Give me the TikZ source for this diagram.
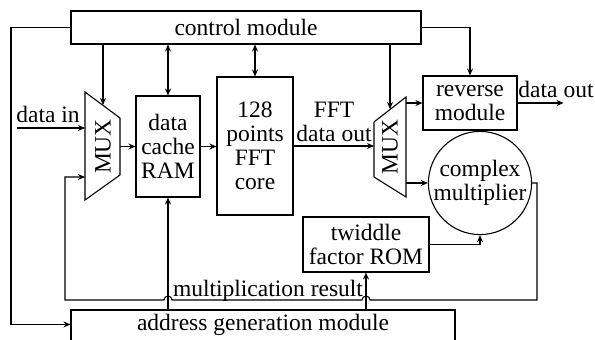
\documentclass[tikz,border=0pt]{standalone}
\usepackage{fontspec}
\setmainfont{Liberation Serif}
\usetikzlibrary{arrows.meta,calc}
\begin{document}
\begin{tikzpicture}[x=1pt,y=-1pt,
  every node/.style={font=\fontsize{23.5}{24}\selectfont},
  box/.style={draw,line width=1.1pt,inner sep=0pt,align=center},
  ln/.style={line width=1.1pt},
  arr/.style={ln,-{Stealth[length=7pt,width=6pt]}},
  darr/.style={ln,{Stealth[length=7pt,width=6pt]}-{Stealth[length=7pt,width=6pt]}},
  lbl/.style={inner sep=0pt,align=center}]
\useasboundingbox (0,0) rectangle (595,340);
% blocks
\node[box,minimum width=350pt,minimum height=33pt] (ctrl) at (246,27.5) {control module};
\node[box,minimum width=64pt,minimum height=101pt] (ram) at (168,146.5) {data\\cache\\RAM};
\node[box,minimum width=76pt,minimum height=138pt] (fft) at (255,146) {128\\points\\FFT\\core};
\node[box,minimum width=94pt,minimum height=54pt] (rev) at (470,103) {reverse\\module};
\node[box,minimum width=126pt,minimum height=55pt] (rom) at (366,244.5) {twiddle\\factor ROM};
\node[box,circle,minimum size=98pt] (cm) at (480,183) {complex\\multiplier};
\node[box,minimum width=384pt,minimum height=40pt] (addr) at (263,330) {};
\node[lbl] (addrt) at (263,325) {address generation module};
% MUX 1
\coordinate (m1a) at (85,92);
\coordinate (m1b) at (120,118);
\coordinate (m1c) at (120,175);
\coordinate (m1d) at (85,200);
\draw[ln] (m1a) -- (m1b) -- (m1c) -- (m1d) -- cycle;
\node[lbl,rotate=90] (mux1) at (103,146.5) {MUX};
% MUX 2
\coordinate (m2a) at (374,122);
\coordinate (m2b) at (406,97);
\coordinate (m2c) at (406,197);
\coordinate (m2d) at (374,177);
\draw[ln] (m2a) -- (m2b) -- (m2c) -- (m2d) -- cycle;
\node[lbl,rotate=90] (mux2) at (390,147) {MUX};
% connection points
\coordinate (m1top) at (103,105);
\coordinate (m1in) at (85,128);
\coordinate (m1fb) at (85,177);
\coordinate (m1out) at (120,146.5);
\coordinate (m2top) at (390,109);
\coordinate (m2in) at (374,146);
\coordinate (m2o1) at (406,103);
\coordinate (m2o2) at (406,183);
\coordinate (din) at (17,128);
\coordinate (addrin) at ($(addr.north west)+(0,15)$);
% connectors
\draw[arr] (ctrl.west) -- (11,27.5) |- (addrin);
\draw[arr] (ctrl.south -| m1top) -- (m1top);
\draw[arr] (din) -- (m1in);
\node[lbl,anchor=base] (dinl) at (48,122) {data in};
\draw[arr] (m1out) -- (ram.west);
\draw[darr] (ctrl.south -| ram.north) -- (ram.north);
\draw[arr] (addr.north -| ram.south) -- (ram.south);
\draw[arr] (ram.east) -- (ram.east -| fft.west);
\draw[darr] (ctrl.south -| fft.north) -- (fft.north);
\draw[arr] (fft.east) -- (m2in);
\node[lbl] (fftl) at (334,122) {FFT\\data out};
\draw[arr] (ctrl.south -| m2top) -- (m2top);
\draw[arr] (m2o1) -- (rev.west |- m2o1);
\draw[arr] (ctrl.east) -| (rev.north);
\draw[arr] (rev.east) -- ++(46,0) coordinate (dout);
\node[lbl,anchor=base] (doutl) at (556,97) {data out};
\draw[arr] (m2o2) -- (cm.west);
\draw[arr] (rom.east) -| (cm.south);
\draw[arr] (addr.north -| rom.south) -- (rom.south);
\draw[arr] (cm.east) -- (537,183) -- (537,300) -- (370,300)
  arc[start angle=0,end angle=-180,radius=4] -- (172,300)
  arc[start angle=0,end angle=-180,radius=4] -- (65,300) |- (m1fb);
\node[lbl,anchor=base] (mres) at (268,296) {multiplication result};
\end{tikzpicture}
\end{document}
